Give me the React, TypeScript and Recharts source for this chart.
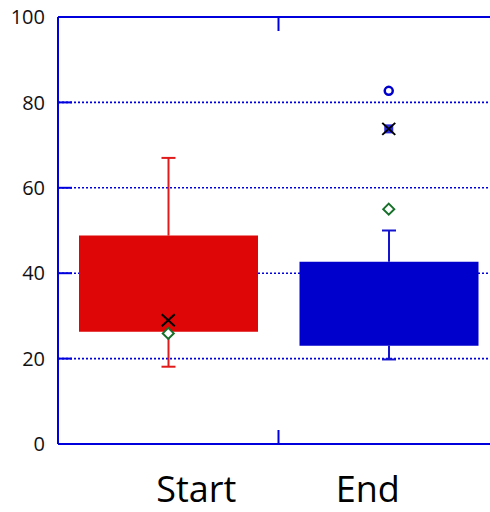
import { Bar, CartesianGrid, Cell, ComposedChart, Scatter, XAxis, YAxis } from "recharts";

const categories = ["Start", "End"];
const whiskerLow = [18.1, 19.8];
const quartile1 = [26.3, 23.0];
const quartile3 = [48.8, 42.7];
const whiskerHigh = [67.0, 50.0];
const meanValues = [29.0, 73.8];
const diamondValues = [25.9, 55.0];
const circleOutliers = [null, 82.7];
const squareOutliers = [null, 73.8];
const boxColors = ["#de0606", "#0000cd"];
const whiskerColors = ["#e01b1b", "#1414cf"];
const yTicks = [0, 20, 40, 60, 80, 100];

const AXIS = "#0000dd";
const FONT = "'Open Sans', sans-serif";

// stacked table: invisible base, lower whisker, box, upper whisker
const rows = categories.map((name, i) => ({
  name,
  base: whiskerLow[i],
  lower: quartile1[i] - whiskerLow[i],
  body: quartile3[i] - quartile1[i],
  upper: whiskerHigh[i] - quartile3[i],
  mean: meanValues[i],
  diamond: diamondValues[i],
  circle: circleOutliers[i],
  square: squareOutliers[i],
}));

const colorOf = (payload: any) => whiskerColors[Math.max(0, categories.indexOf(payload?.name))];

function LowerWhisker(props: any) {
  const { x, y, width, height, payload } = props;
  const cx = x + width / 2;
  const c = colorOf(payload);
  return (
    <g>
      <line x1={cx} x2={cx} y1={y} y2={y + height} stroke={c} strokeWidth={2} />
      <line x1={cx - 7} x2={cx + 7} y1={y + height} y2={y + height} stroke={c} strokeWidth={2} />
    </g>
  );
}

function UpperWhisker(props: any) {
  const { x, y, width, height, payload } = props;
  const cx = x + width / 2;
  const c = colorOf(payload);
  return (
    <g>
      <line x1={cx} x2={cx} y1={y} y2={y + height} stroke={c} strokeWidth={2} />
      <line x1={cx - 7} x2={cx + 7} y1={y} y2={y} stroke={c} strokeWidth={2} />
    </g>
  );
}

const guard = (key: string, draw: (cx: number, cy: number) => any) => (props: any) => {
  if (props.payload?.[key] == null) return <g />;
  return draw(props.cx, props.cy);
};

const crossShape = guard("mean", (cx, cy) => (
  <g stroke="#000" strokeWidth={2}>
    <line x1={cx - 6.5} y1={cy - 6} x2={cx + 6.5} y2={cy + 6} />
    <line x1={cx - 6.5} y1={cy + 6} x2={cx + 6.5} y2={cy - 6} />
  </g>
));

const diamondShape = guard("diamond", (cx, cy) => (
  <path
    d={`M${cx},${cy - 5.5} L${cx + 5.5},${cy} L${cx},${cy + 5.5} L${cx - 5.5},${cy} Z`}
    fill="#fff"
    stroke="#17702a"
    strokeWidth={2}
  />
));

const circleShape = guard("circle", (cx, cy) => (
  <circle cx={cx} cy={cy} r={4} fill="#fff" stroke="#0000cd" strokeWidth={2.5} />
));

const squareShape = guard("square", (cx, cy) => (
  <rect x={cx - 4.5} y={cy - 4.5} width={9} height={9} fill="#2a2ae0" />
));

function LeftTick(props: any) {
  const { x, y, payload } = props;
  return (
    <g>
      {payload.value > 0 && payload.value < 100 && (
        <line x1={x} x2={x + 14} y1={y} y2={y} stroke={AXIS} strokeWidth={2} />
      )}
      <text x={x - 13} y={y} dy="0.36em" textAnchor="end" fontFamily={FONT} fontSize={20} fill="#111">
        {payload.value}
      </text>
    </g>
  );
}

function RightTick(props: any) {
  const { x, y, payload } = props;
  if (payload.value <= 0 || payload.value >= 100) return <g />;
  return <line x1={x - 14} x2={x} y1={y} y2={y} stroke={AXIS} strokeWidth={2} />;
}

function BottomTick(props: any) {
  const { x, y, payload, index } = props;
  const shift = index === 0 ? 28 : -21;
  return (
    <g>
      {index === 0 && (
        <line x1={x + payload.offset} x2={x + payload.offset} y1={y} y2={y - 14} stroke={AXIS} strokeWidth={2} />
      )}
      <text x={x + shift} y={y + 58} textAnchor="middle" fontFamily={FONT} fontSize={36} fill="#000">
        {payload.value}
      </text>
    </g>
  );
}

function TopTick(props: any) {
  const { x, y, payload, index } = props;
  if (index !== 0) return <g />;
  return <line x1={x + payload.offset} x2={x + payload.offset} y1={y} y2={y + 14} stroke={AXIS} strokeWidth={2} />;
}

export default function App() {
  return (
    <div style={{ position: "absolute", left: 0, top: 0, width: 490, height: 512, overflow: "hidden", background: "#fff" }}>
      <ComposedChart width={500} height={512} data={rows} margin={{ top: 0, right: 0, bottom: 0, left: 0 }}>
        <CartesianGrid vertical={false} stroke={AXIS} strokeWidth={1.6} strokeDasharray="2 2" />
        <XAxis
          dataKey="name"
          height={68}
          axisLine={{ stroke: AXIS, strokeWidth: 2 }}
          tickLine={false}
          tickSize={0}
          tickMargin={0}
          tick={<BottomTick />}
          interval={0}
        />
        <XAxis
          xAxisId="top"
          orientation="top"
          dataKey="name"
          height={17}
          axisLine={{ stroke: AXIS, strokeWidth: 2 }}
          tickLine={false}
          tickSize={0}
          tickMargin={0}
          tick={<TopTick />}
          interval={0}
        />
        <YAxis
          domain={[0, 100]}
          ticks={yTicks}
          width={58}
          axisLine={{ stroke: AXIS, strokeWidth: 2 }}
          tickLine={false}
          tickSize={0}
          tickMargin={0}
          tick={<LeftTick />}
          interval={0}
        />
        <YAxis
          yAxisId="right"
          orientation="right"
          domain={[0, 100]}
          ticks={yTicks}
          width={1}
          axisLine={{ stroke: AXIS, strokeWidth: 2 }}
          tickLine={false}
          tickSize={0}
          tickMargin={0}
          tick={<RightTick />}
          interval={0}
        />
        <Bar dataKey="base" stackId="box" barSize={179} fill="none" isAnimationActive={false} />
        <Bar dataKey="lower" stackId="box" barSize={179} shape={<LowerWhisker />} isAnimationActive={false} />
        <Bar dataKey="body" stackId="box" barSize={179} isAnimationActive={false}>
          {rows.map((r, i) => (
            <Cell key={r.name} fill={boxColors[i]} />
          ))}
        </Bar>
        <Bar dataKey="upper" stackId="box" barSize={179} shape={<UpperWhisker />} isAnimationActive={false} />
        <Scatter dataKey="diamond" shape={diamondShape} isAnimationActive={false} />
        <Scatter dataKey="circle" shape={circleShape} isAnimationActive={false} />
        <Scatter dataKey="square" shape={squareShape} isAnimationActive={false} />
        <Scatter dataKey="mean" shape={crossShape} isAnimationActive={false} />
      </ComposedChart>
    </div>
  );
}
